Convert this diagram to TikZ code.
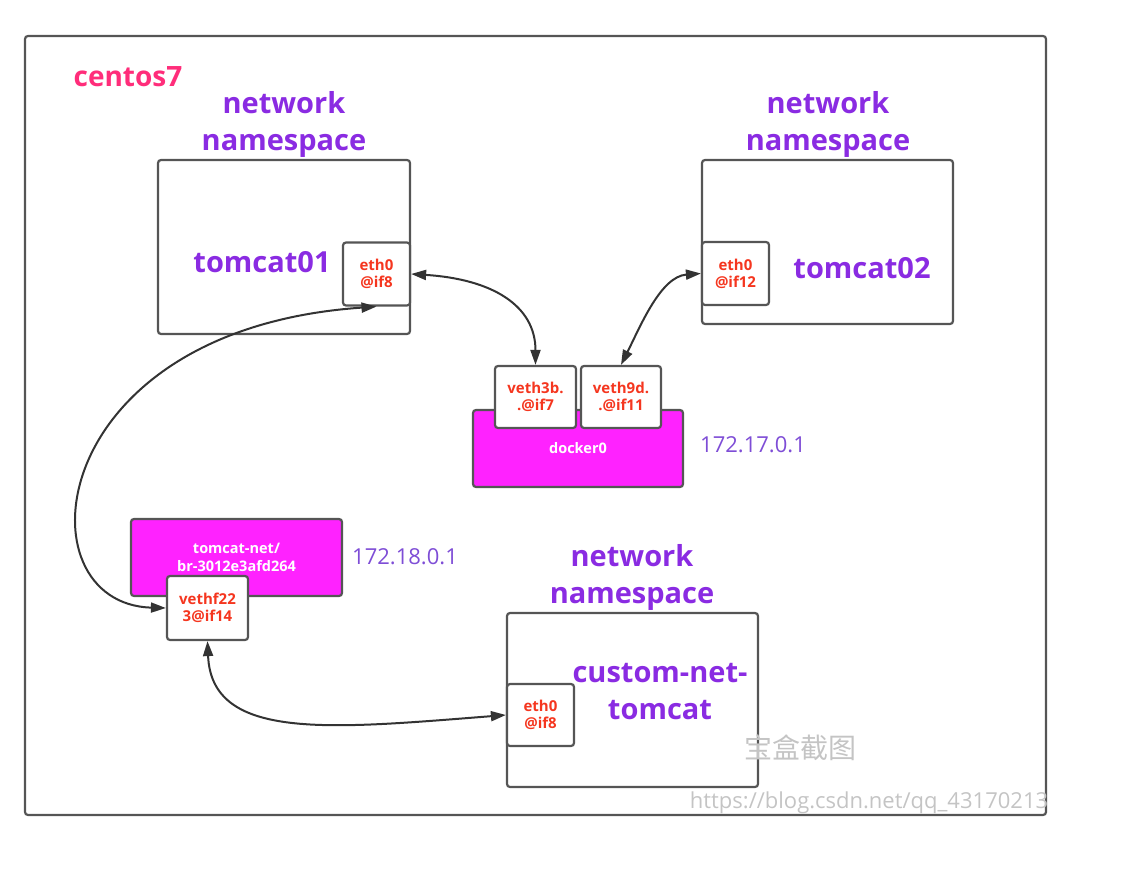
\documentclass[tikz,border=0pt]{standalone}
\usepackage{fontspec}
\setmainfont{Open Sans}
\newfontfamily\cjkfont{Noto Sans CJK SC}
\usetikzlibrary{arrows.meta, positioning}
\definecolor{FrameGray}{HTML}{555555}
\definecolor{LinkInk}{HTML}{333333}
\definecolor{NsPurple}{HTML}{8A2BE2}
\definecolor{IpPurple}{HTML}{7E4DD6}
\definecolor{EthRed}{HTML}{F5361F}
\definecolor{HostPink}{HTML}{FF2D7A}
\definecolor{BridgeMagenta}{HTML}{FF22FF}
\definecolor{MarkGray}{HTML}{C4C4C4}
\tikzset{
  nsbox/.style={draw=FrameGray, line width=2.2pt, rounded corners=3pt,
                fill=white, inner sep=0pt, minimum width=252pt,
                minimum height=174pt},
  ethbox/.style={draw=FrameGray, line width=2.2pt, rounded corners=3pt,
                 fill=white, align=center, inner sep=0pt,
                 minimum width=67pt, minimum height=63pt,
                 font=\fontsize{15}{17}\selectfont\bfseries, text=EthRed},
  vethbox/.style={ethbox, minimum width=81pt},
  bridgebox/.style={draw=FrameGray, line width=2.2pt, rounded corners=3pt,
                    fill=BridgeMagenta, align=center, inner sep=0pt,
                    minimum width=210pt, minimum height=77pt,
                    font=\fontsize{14.5}{18}\selectfont\bfseries, text=white},
  nslab/.style={font=\fontsize{29}{37}\selectfont\bfseries, text=NsPurple,
                align=center},
  iplab/.style={font=\fontsize{22}{26}\selectfont, text=IpPurple,
                anchor=west, inner sep=0pt},
  linkarrow/.style={{Triangle[length=15pt,width=10pt]}-{Triangle[length=15pt,width=10pt]},
                    line width=2pt, draw=LinkInk},
  marklab/.style={text=MarkGray},
}
\begin{document}
\begin{tikzpicture}[x=1pt, y=-1pt]
  \useasboundingbox (0,0) rectangle (1121,869);
  % host frame
  \draw[draw=FrameGray, line width=2.2pt, rounded corners=3pt]
    (25,36) rectangle (1046,815);
  \node[font=\fontsize{28}{32}\selectfont\bfseries, text=HostPink]
    (host) at (128,77) {centos7};

  % first namespace
  \node[nslab] (ns1lab) at (284,124) {network\\namespace};
  \node[nsbox] (tomcat01) at (284,247) {};
  \node[nslab] (tomcat01lab) at (262,262) {tomcat01};
  \node[ethbox] (eth0a) at (376.5,274) {eth0\\@if8};

  % second namespace
  \node[nslab] (ns2lab) at (828,124) {network\\namespace};
  \node[nsbox, minimum width=251pt, minimum height=164pt]
    (tomcat02) at (827.5,242) {};
  \node[nslab] (tomcat02lab) at (862,268) {tomcat02};
  \node[ethbox] (eth0b) at (735.5,273.5) {eth0\\@if12};

  % docker0 bridge
  \node[bridgebox] (docker0) at (578,448.5) {docker0};
  \node[vethbox, minimum height=62pt] (veth3b) at (535.5,397) {veth3b.\\.@if7};
  \node[vethbox, minimum width=80pt, minimum height=62pt]
    (veth9d) at (621,397) {veth9d.\\.@if11};
  \node[iplab] (ip17) at (700,445) {172.17.0.1};

  % tomcat-net bridge
  \node[bridgebox, minimum width=211pt] (tomcatnet) at (236.5,557.5)
    {tomcat-net/\\br-3012e3afd264};
  \node[vethbox, minimum height=64pt] (vethf22) at (207.5,608) {vethf22\\3@if14};
  \node[iplab] (ip18) at (352,557) {172.18.0.1};

  % third namespace
  \node[nslab] (ns3lab) at (632,577) {network\\namespace};
  \node[nsbox, minimum width=251pt] (customnet) at (632.5,700) {};
  \node[nslab] (customlab) at (660,692) {custom-net-\\tomcat};
  \node[ethbox, minimum height=62pt] (eth0c) at (540.5,715) {eth0\\@if8};

  % links
  \draw[linkarrow] (eth0a.east) .. controls +(80,5) and +(0,-60) .. (veth3b.north);
  \draw[linkarrow] (eth0b.west) .. controls +(-40,3) and +(20,-40) .. (veth9d.north);
  \draw[linkarrow] (vethf22.west) .. controls +(-147,-4) and +(-336,23) .. (eth0a.south);
  \draw[linkarrow] (vethf22.south) .. controls +(4,100) and +(-177,14) .. (eth0c.west);

  % watermarks
  \node[marklab, font=\fontsize{28}{32}\selectfont\cjkfont] (mark1) at (800,748) {宝盒截图};
  \node[marklab, font=\fontsize{22}{26}\selectfont] (mark2) at (869,803)
    {https://blog.csdn.net/qq\_43170213};
\end{tikzpicture}
\end{document}
